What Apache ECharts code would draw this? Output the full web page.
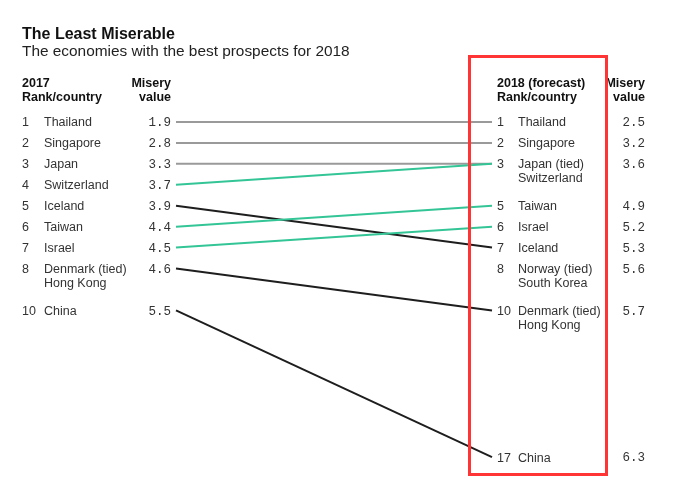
<!DOCTYPE html>
<html><head><meta charset="utf-8">
<script src="https://cdn.jsdelivr.net/npm/echarts@6/dist/echarts.min.js"></script>
<style>html,body{margin:0;padding:0;background:#fff}#c{width:678px;height:478px}</style>
</head><body><div id="c"></div>
<script>
const leftRanks = [1, 2, 3, 4, 5, 6, 7, 8, 10];
const leftCountries = ['Thailand', 'Singapore', 'Japan', 'Switzerland', 'Iceland', 'Taiwan', 'Israel', 'Denmark (tied)\nHong Kong', 'China'];
const leftValues = ['1.9', '2.8', '3.3', '3.7', '3.9', '4.4', '4.5', '4.6', '5.5'];

const rightRanks = [1, 2, 3, 5, 6, 7, 8, 10, 17];
const rightCountries = ['Thailand', 'Singapore', 'Japan (tied)\nSwitzerland', 'Taiwan', 'Israel', 'Iceland', 'Norway (tied)\nSouth Korea', 'Denmark (tied)\nHong Kong', 'China'];
const rightValues = ['2.5', '3.2', '3.6', '4.9', '5.2', '5.3', '5.6', '5.7', '6.3'];

const linkFrom = [1, 2, 3, 4, 5, 6, 7, 8, 10];
const linkTo = [1, 2, 3, 3, 7, 5, 6, 10, 17];
const linkChange = ['same', 'same', 'same', 'up', 'down', 'up', 'up', 'down', 'down'];

const changeColors = { same: '#9a9a9a', up: '#33c596', down: '#1e1e1e' };
const bodyFont = '12.5px "Liberation Sans", Arial, sans-serif';
const headFont = 'bold 12.5px "Liberation Sans", Arial, sans-serif';
const monoFont = '12.5px "Liberation Mono", "DejaVu Sans Mono", monospace';
const textColor = '#333';

function labelItem(side) {
  return function (params, api) {
    const i = api.value(2);
    const p = api.coord([api.value(0), api.value(1)]);
    const rank = side === 'left' ? leftRanks[i] : rightRanks[i];
    const country = side === 'left' ? leftCountries[i] : rightCountries[i];
    const val = side === 'left' ? leftValues[i] : rightValues[i];
    const rankX = side === 'left' ? p[0] - 154 : p[0] + 5;
    const countryX = side === 'left' ? p[0] - 132 : p[0] + 26;
    const valX = side === 'left' ? p[0] - 5 : p[0] + 153;
    const y = p[1] - 6;
    return {
      type: 'group',
      children: [
        { type: 'text', style: { text: String(rank), x: rankX, y: y, font: bodyFont, fill: textColor, align: 'left', verticalAlign: 'top', lineHeight: 14 } },
        { type: 'text', style: { text: country, x: countryX, y: y, font: bodyFont, fill: textColor, align: 'left', verticalAlign: 'top', lineHeight: 14 } },
        { type: 'text', style: { text: val, x: valX, y: y, font: monoFont, fill: textColor, align: 'right', verticalAlign: 'top', lineHeight: 14 } }
      ]
    };
  };
}

const chart = echarts.init(document.getElementById('c'));
chart.setOption({
  animation: false,
  backgroundColor: '#fff',
  title: {
    text: 'The Least Miserable',
    subtext: 'The economies with the best prospects for 2018',
    left: 22, top: 27, padding: 0, itemGap: 1,
    textStyle: { fontFamily: '"Liberation Sans", Arial, sans-serif', fontWeight: 'bold', fontSize: 16, color: '#111' },
    subtextStyle: { fontFamily: '"Liberation Sans", Arial, sans-serif', fontSize: 15.4, color: '#222' }
  },
  grid: { left: 176, top: 101, width: 316, height: 378 },
  xAxis: { type: 'value', min: 0, max: 1, show: false },
  yAxis: { type: 'value', min: 0, max: 18, inverse: true, show: false },
  graphic: [
    { type: 'text', style: { text: '2017\nRank/country', x: 22, y: 77, font: headFont, fill: '#111', align: 'left', verticalAlign: 'top', lineHeight: 14 } },
    { type: 'text', style: { text: 'Misery\nvalue', x: 171, y: 77, font: headFont, fill: '#111', align: 'right', verticalAlign: 'top', lineHeight: 14 } },
    { type: 'text', style: { text: '2018 (forecast)\nRank/country', x: 497, y: 77, font: headFont, fill: '#111', align: 'left', verticalAlign: 'top', lineHeight: 14 } },
    { type: 'text', style: { text: 'Misery\nvalue', x: 645, y: 77, font: headFont, fill: '#111', align: 'right', verticalAlign: 'top', lineHeight: 14 } },
    { type: 'rect', z: 100, shape: { x: 469.5, y: 56.5, width: 137, height: 418 }, style: { fill: 'none', stroke: '#ff3535', lineWidth: 3 } }
  ],
  series: [
    {
      type: 'custom',
      data: linkFrom.map((f, i) => [0, f, 1, linkTo[i], i]),
      renderItem: function (params, api) {
        const a = api.coord([api.value(0), api.value(1)]);
        const b = api.coord([api.value(2), api.value(3)]);
        return { type: 'line', shape: { x1: a[0], y1: a[1], x2: b[0], y2: b[1] },
          style: { stroke: changeColors[linkChange[api.value(4)]], lineWidth: 2 } };
      }
    },
    { type: 'custom', data: leftRanks.map((r, i) => [0, r, i]), renderItem: labelItem('left') },
    { type: 'custom', data: rightRanks.map((r, i) => [1, r, i]), renderItem: labelItem('right') }
  ]
});
</script></body></html>
